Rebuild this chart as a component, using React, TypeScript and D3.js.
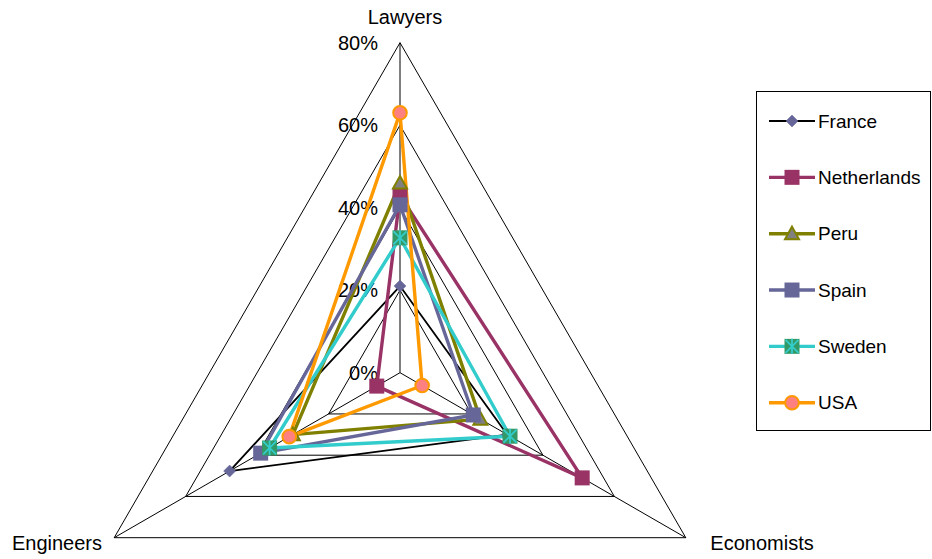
import React from "react";
import * as d3 from "d3";

const axes = ["Lawyers", "Economists", "Engineers"];
const ticks = [0, 0.2, 0.4, 0.6, 0.8];
const tickLabels = ["0%", "20%", "40%", "60%", "80%"];

const countries = ["France", "Netherlands", "Peru", "Spain", "Sweden", "USA"];
// values per axis: Lawyers, Economists, Engineers
const france = [0.21, 0.30, 0.477];
const netherlands = [0.43, 0.51, 0.065];
const peru = [0.46, 0.225, 0.30];
const spain = [0.407, 0.205, 0.39];
const sweden = [0.327, 0.308, 0.365];
const usa = [0.63, 0.062, 0.31];

const seriesValues = [france, netherlands, peru, spain, sweden, usa];
const lineColors = ["#000000", "#993366", "#808000", "#666699", "#33CCCC", "#FF9900"];
const lineWidths = [1.8, 3.4, 3.4, 3.4, 3.4, 3.4];
const markerKinds = ["diamond", "square", "triangle", "square", "xsquare", "circle"];

const W = 932;
const H = 559;
const cx = 400;
const cy = 372.7;
const R = 330;

const rScale = d3.scaleLinear().domain([0, 0.8]).range([0, R]);
const angleScale = d3
  .scalePoint<string>()
  .domain(axes)
  .range([-Math.PI / 2, -Math.PI / 2 + (2 * Math.PI * 2) / 3]);

const pt = (axis: string, v: number): [number, number] => {
  const a = angleScale(axis) as number;
  const r = rScale(v);
  return [cx + r * Math.cos(a), cy + r * Math.sin(a)];
};

const closedLine = d3.line<[number, number]>().curve(d3.curveLinearClosed);

function Marker({ kind, x, y, color }: { kind: string; x: number; y: number; color: string }) {
  if (kind === "diamond") {
    const s = 6;
    return (
      <path
        d={`M${x},${y - s}L${x + s},${y}L${x},${y + s}L${x - s},${y}Z`}
        fill="#666699"
        stroke="#666699"
        strokeWidth={0.5}
      />
    );
  }
  if (kind === "square") {
    const s = 7.5;
    return <rect x={x - s} y={y - s} width={2 * s} height={2 * s} fill={color} />;
  }
  if (kind === "triangle") {
    const s = 7;
    return (
      <path
        d={`M${x},${y - s}L${x + s},${y + s * 0.8}L${x - s},${y + s * 0.8}Z`}
        fill="#808080"
        stroke="#808000"
        strokeWidth={2}
        strokeLinejoin="miter"
      />
    );
  }
  if (kind === "xsquare") {
    const s = 7.5;
    return (
      <g>
        <rect x={x - s} y={y - s} width={2 * s} height={2 * s} fill="#339966" />
        <path
          d={`M${x - s + 1},${y - s + 1}L${x + s - 1},${y + s - 1}M${x + s - 1},${y - s + 1}L${x - s + 1},${y + s - 1}M${x},${y - s}L${x},${y + s}`}
          stroke="#33CCCC"
          strokeWidth={1.8}
        />
      </g>
    );
  }
  return <circle cx={x} cy={y} r={6.8} fill="#FF8080" stroke="#FF9900" strokeWidth={2} />;
}

export default function App() {
  const font = "'Liberation Sans', Arial, sans-serif";
  const legendY = d3
    .scalePoint<string>()
    .domain(countries)
    .range([121, 402.7]);

  return (
    <svg
      width={W}
      height={H}
      style={{ position: "absolute", left: 0, top: 0, background: "#fff" }}
      fontFamily={font}
    >
      <rect x={0} y={0} width={W} height={H} fill="#fff" />
      {/* grid rings */}
      {ticks.slice(1).map((t) => (
        <path
          key={t}
          d={closedLine(axes.map((a) => pt(a, t))) as string}
          fill="none"
          stroke="#000"
          strokeWidth={1}
        />
      ))}
      {/* spokes */}
      {axes.map((a) => {
        const [x, y] = pt(a, 0.8);
        return <line key={a} x1={cx} y1={cy} x2={x} y2={y} stroke="#000" strokeWidth={1} />;
      })}
      {/* tick labels */}
      {ticks.map((t, i) => (
        <text
          key={t}
          x={378}
          y={cy - rScale(t)}
          textAnchor="end"
          dominantBaseline="central"
          fontSize={20}
          fill="#000"
        >
          {tickLabels[i]}
        </text>
      ))}
      {/* axis labels */}
      <text x={405} y={17} textAnchor="middle" dominantBaseline="central" fontSize={20}>
        {axes[0]}
      </text>
      <text x={762} y={543} textAnchor="middle" dominantBaseline="central" fontSize={20}>
        {axes[1]}
      </text>
      <text x={57} y={543} textAnchor="middle" dominantBaseline="central" fontSize={20}>
        {axes[2]}
      </text>
      {/* series lines */}
      {seriesValues.map((vals, i) => (
        <path
          key={countries[i]}
          d={closedLine(axes.map((a, j) => pt(a, vals[j]))) as string}
          fill="none"
          stroke={lineColors[i]}
          strokeWidth={lineWidths[i]}
          strokeLinejoin="round"
        />
      ))}
      {/* markers */}
      {seriesValues.map((vals, i) => (
        <g key={"m" + countries[i]}>
          {axes.map((a, j) => {
            const [x, y] = pt(a, vals[j]);
            return <Marker key={a} kind={markerKinds[i]} x={x} y={y} color={lineColors[i]} />;
          })}
        </g>
      ))}
      {/* legend */}
      <rect x={756.5} y={91.5} width={174} height={339} fill="#fff" stroke="#000" strokeWidth={1} />
      {countries.map((c, i) => {
        const y = legendY(c) as number;
        return (
          <g key={"l" + c}>
            <line x1={769} y1={y} x2={815} y2={y} stroke={lineColors[i]} strokeWidth={lineWidths[i]} />
            <Marker kind={markerKinds[i]} x={792} y={y} color={lineColors[i]} />
            <text x={818} y={y} dominantBaseline="central" fontSize={19} fill="#000">
              {c}
            </text>
          </g>
        );
      })}
    </svg>
  );
}
